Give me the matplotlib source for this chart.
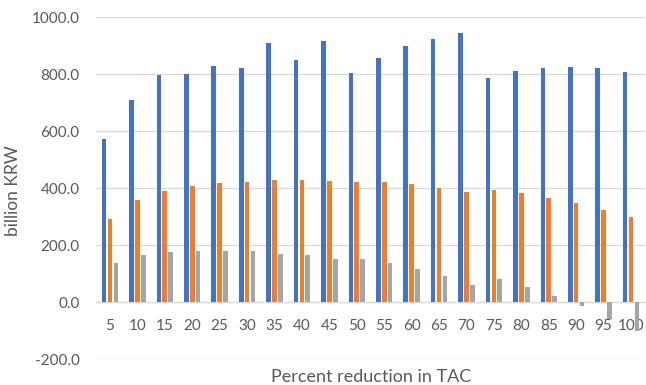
import numpy as np
import matplotlib.pyplot as plt

plt.rcParams['font.family'] = ['Lato', 'DejaVu Sans']

categories = ['5', '10', '15', '20', '25', '30', '35', '40', '45', '50',
              '55', '60', '65', '70', '75', '80', '85', '90', '95', '100']
series_blue = [573, 709, 798, 800, 830, 821, 910, 851, 916, 804,
               857, 898, 925, 944, 787, 810, 823, 825, 821, 808]
series_orange = [292, 358, 389, 407, 417, 421, 428, 427, 426, 421,
                 420, 414, 402, 385, 393, 382, 367, 348, 322, 297]
series_gray = [138, 165, 176, 181, 181, 178, 169, 166, 152, 151,
               136, 116, 90, 60, 81, 54, 21, -15, -61, -101]
yticks = [-200, 0, 200, 400, 600, 800, 1000]

text_color = '#595959'
grid_color = '#d9d9d9'

fig = plt.figure(figsize=(6.46, 3.85), dpi=100)
ax = fig.add_axes([0.149, 0.0675, 0.849, 0.8875])

x = np.arange(len(categories))
w = 0.17
off = 0.215
ax.bar(x - off, series_blue, w, color='#4472C4', zorder=3)
ax.bar(x, series_orange, w, color='#ED7D31', zorder=3)
ax.bar(x + off, series_gray, w, color='#A5A5A5', zorder=3)

ax.set_xlim(-0.5, len(categories) - 0.5)
ax.set_ylim(-200, 1000)
ax.set_yticks(yticks)
ax.set_yticklabels([f'{v:.1f}' for v in yticks])
ax.set_xticks(x)
ax.set_xticklabels(categories)

ax.grid(axis='y', color=grid_color, linewidth=0.9, zorder=0)
for s in ['top', 'right', 'left']:
    ax.spines[s].set_visible(False)
ax.spines['bottom'].set_position(('data', 0))
ax.spines['bottom'].set_color(grid_color)
ax.spines['bottom'].set_linewidth(0.9)

ax.tick_params(axis='y', length=0, pad=12, labelsize=11, labelcolor=text_color)
ax.tick_params(axis='x', length=0, pad=12, labelsize=11, labelcolor=text_color)

fig.text(0.02, 0.506, 'billion KRW', rotation=90, ha='center', va='center',
         fontsize=12.5, color=text_color)
fig.text(0.575, 0.021, 'Percent reduction in TAC', ha='center', va='center',
         fontsize=13, color=text_color)

fig.savefig('out.png', dpi=100)
